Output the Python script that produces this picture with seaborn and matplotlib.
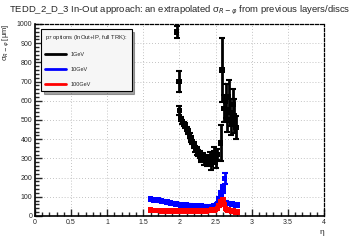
import numpy as np
import pandas as pd
import seaborn as sns
import matplotlib.pyplot as plt
from matplotlib.lines import Line2D
from matplotlib.ticker import MultipleLocator

# eta positions and sigma values (in um)
eta_1gev = [1.96, 1.99, 2.00, 2.02, 2.04, 2.06, 2.08, 2.10, 2.12, 2.14, 2.16, 2.18,
            2.20, 2.22, 2.24, 2.26, 2.28, 2.30, 2.32, 2.34, 2.36, 2.38, 2.40, 2.42,
            2.44, 2.46, 2.48, 2.50, 2.52, 2.57, 2.59, 2.62, 2.64, 2.66, 2.68, 2.70,
            2.72, 2.74, 2.76, 2.78]
sig_1gev = [958, 700, 550, 505, 490, 480, 470, 455, 440, 420, 400, 385,
            370, 350, 340, 330, 320, 300, 310, 290, 300, 280, 290, 310,
            270, 300, 330, 280, 320, 380, 760, 560, 600, 500, 620, 540,
            480, 580, 520, 460]
err_1gev = [30, 55, 25, 12, 12, 10, 12, 10, 12, 12, 15, 12,
            15, 15, 20, 15, 20, 20, 20, 25, 20, 20, 25, 25,
            30, 25, 30, 30, 30, 95, 165, 70, 90, 60, 90, 70,
            60, 80, 90, 60]

eta_hi = [1.600, 1.625, 1.650, 1.675, 1.700, 1.725, 1.750, 1.775, 1.800, 1.825,
          1.850, 1.875, 1.900, 1.925, 1.950, 1.975, 2.000, 2.025, 2.050, 2.075,
          2.100, 2.125, 2.150, 2.175, 2.200, 2.225, 2.250, 2.275, 2.300, 2.325,
          2.350, 2.375, 2.400, 2.425, 2.450, 2.475, 2.500, 2.525, 2.550, 2.575,
          2.600, 2.625, 2.650, 2.675, 2.700, 2.725, 2.750, 2.775, 2.800]
sig_10gev = [88, 86, 84, 85, 82, 80, 78, 76, 75, 73,
             70, 68, 66, 64, 62, 60, 60, 58, 58, 56,
             56, 55, 55, 54, 54, 53, 52, 52, 51, 50,
             50, 49, 48, 48, 50, 52, 55, 62, 85, 110,
             140, 195, 70, 66, 64, 62, 60, 58, 56]
err_10gev = [5, 5, 5, 5, 5, 5, 5, 5, 5, 5,
             5, 5, 5, 5, 5, 5, 5, 5, 5, 5,
             5, 5, 5, 5, 5, 5, 5, 5, 5, 5,
             5, 5, 5, 5, 5, 5, 6, 8, 12, 18,
             20, 30, 8, 6, 6, 6, 6, 6, 6]
sig_100gev = [30, 29, 28, 29, 28, 28, 27, 28, 27, 27,
              27, 26, 27, 26, 26, 26, 27, 26, 26, 26,
              26, 25, 26, 25, 26, 25, 26, 26, 27, 26,
              27, 27, 28, 28, 30, 32, 35, 40, 55, 75,
              82, 60, 35, 30, 28, 25, 25, 22, 22]
err_100gev = [3, 3, 3, 3, 3, 3, 3, 3, 3, 3,
              3, 3, 3, 3, 3, 3, 3, 3, 3, 3,
              3, 3, 3, 3, 3, 3, 3, 3, 3, 3,
              3, 3, 3, 3, 3, 3, 4, 5, 8, 10,
              12, 8, 5, 4, 4, 4, 4, 4, 4]

labels = ['1GeV', '10GeV', '100GeV']
colors = ['#000000', '#0000ff', '#ff0000']

df = pd.concat([
    pd.DataFrame({'eta': eta_1gev, 'sigma': sig_1gev, 'err': err_1gev, 'pt': labels[0]}),
    pd.DataFrame({'eta': eta_hi, 'sigma': sig_10gev, 'err': err_10gev, 'pt': labels[1]}),
    pd.DataFrame({'eta': eta_hi, 'sigma': sig_100gev, 'err': err_100gev, 'pt': labels[2]}),
])

sns.set_style('white')
plt.rcParams['font.family'] = ['Liberation Sans', 'DejaVu Sans']

fig = plt.figure(figsize=(3.6, 2.4), dpi=100)
ax = fig.add_axes([0.097, 0.1, 0.803, 0.8])

for lab, col in zip(labels, colors):
    d = df[df['pt'] == lab]
    ax.errorbar(d['eta'], d['sigma'], yerr=d['err'], fmt='none', ecolor=col,
                elinewidth=2, capsize=2, capthick=1.5, zorder=3)
sns.scatterplot(data=df, x='eta', y='sigma', hue='pt', palette=colors, marker='s',
                s=16, linewidth=0, legend=False, ax=ax, zorder=4)

ax.set_xlim(0, 4)
ax.set_ylim(0, 1000)
ax.xaxis.set_minor_locator(MultipleLocator(0.1))
ax.yaxis.set_major_locator(MultipleLocator(100))
ax.yaxis.set_minor_locator(MultipleLocator(20))
ax.set_xticks([0, 0.5, 1, 1.5, 2, 2.5, 3, 3.5, 4])
ax.set_xticklabels(['0', '0.5', '1', '1.5', '2', '2.5', '3', '3.5', '4'])
ax.tick_params(which='major', direction='in', length=5, width=1, labelsize=5, pad=2,
               top=False, right=False, bottom=True, left=True)
ax.tick_params(which='minor', direction='in', length=3, width=1, top=False, right=False,
               bottom=True, left=True)
ax.grid(True, which='major', color='#b0b0b0', linestyle=(0, (1, 2.5)), linewidth=0.6)

for side in ['left', 'bottom']:
    ax.spines[side].set_linewidth(1.2)
    ax.spines[side].set_color('black')
for side in ['top', 'right']:
    ax.spines[side].set_linestyle((0, (2.5, 1.5)))
    ax.spines[side].set_linewidth(0.9)
    ax.spines[side].set_color('black')

ax.set_xlabel('η', fontsize=6, loc='right', labelpad=2)
ax.set_ylabel('σ$_{R-φ}$ [μm]', fontsize=5.5, loc='top', labelpad=3)
fig.suptitle('TEDD_2_D_3 In-Out approach: an extrapolated σ$_{R-φ}$ from previous layers/discs',
             fontsize=6.8, y=0.985)

handles = [Line2D([0], [0], color=c, lw=2) for c in colors]
leg = ax.legend(handles, labels, title='p$_T$ options (InOut+IP, full TRK):',
                loc='upper left', bbox_to_anchor=(0.012, 0.988), fontsize=4,
                title_fontsize=4.2, handlelength=3.8, labelspacing=1.8, borderpad=0.7,
                alignment='left', frameon=True, fancybox=False, shadow=True,
                edgecolor='black', facecolor='#f6f6f6')
leg.get_frame().set_linewidth(0.8)

fig.savefig('out.png', dpi=100)
